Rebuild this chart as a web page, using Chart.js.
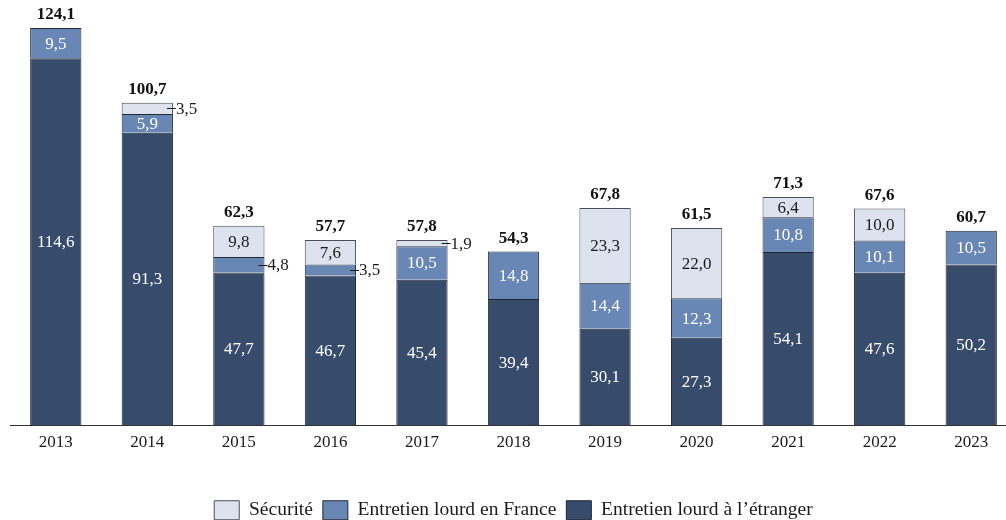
<!DOCTYPE html>
<html lang="fr">
<head>
<meta charset="utf-8">
<script src="https://cdn.jsdelivr.net/npm/chart.js@4.4.0/dist/chart.umd.min.js"></script>
<style>
  html, body { margin: 0; padding: 0; background: #fff; overflow: hidden; }
  .chart-box { width: 1020px; height: 520px; position: relative; }
</style>
</head>
<body>
<div class="chart-box"><canvas id="entretienChart"></canvas></div>
<script>
// Data
const years = ["2013", "2014", "2015", "2016", "2017", "2018", "2019", "2020", "2021", "2022", "2023"];
const etranger = [114.6, 91.3, 47.7, 46.7, 45.4, 39.4, 30.1, 27.3, 54.1, 47.6, 50.2];
const france = [9.5, 5.9, 4.8, 3.5, 10.5, 14.8, 14.4, 12.3, 10.8, 10.1, 10.5];
const securite = [0, 3.5, 9.8, 7.6, 1.9, 0, 23.3, 22.0, 6.4, 10.0, 0];
const totals = ["124,1", "100,7", "62,3", "57,7", "57,8", "54,3", "67,8", "61,5", "71,3", "67,6", "60,7"];

const FONT = "'Liberation Serif', 'Times New Roman', serif";
const fmt = v => v.toFixed(1).replace(".", ",");

// labels inside / beside segments + totals on top
const labelPlugin = {
  id: "segLabels",
  afterDatasetsDraw(chart) {
    const c = chart.ctx;
    c.save();
    c.font = "17px " + FONT;
    c.textBaseline = "middle";
    chart.data.datasets.forEach((ds, i) => {
      const meta = chart.getDatasetMeta(i);
      meta.data.forEach((bar, j) => {
        const v = ds.data[j];
        if (!v) return;
        const mid = (bar.y + bar.base) / 2;
        if (v >= 5) {
          c.textAlign = "center";
          c.fillStyle = i === 2 ? "#1a1a1a" : "#ffffff";
          c.fillText(fmt(v), bar.x, mid + 1);
        } else {
          const right = bar.x + bar.width / 2;
          c.strokeStyle = "#1a1a1a";
          c.lineWidth = 1;
          c.beginPath();
          c.moveTo(right - 6, Math.round(mid) + 0.5);
          c.lineTo(right + 3, Math.round(mid) + 0.5);
          c.stroke();
          c.textAlign = "left";
          c.fillStyle = "#1a1a1a";
          c.fillText(fmt(v), right + 3, mid + 1);
        }
      });
    });
    // totals
    c.font = "bold 17px " + FONT;
    c.textAlign = "center";
    c.fillStyle = "#111";
    years.forEach((y, j) => {
      let top = Infinity;
      chart.data.datasets.forEach((ds, i) => {
        if (ds.data[j]) top = Math.min(top, chart.getDatasetMeta(i).data[j].y);
      });
      c.fillText(totals[j], chart.getDatasetMeta(0).data[j].x, top - 13);
    });
    c.restore();
  }
};

const ctx = document.getElementById("entretienChart");

new Chart(ctx, {
  type: "bar",
  data: {
    labels: years,
    datasets: [
      {
        label: "Entretien lourd à l’étranger",
        data: etranger,
        backgroundColor: "#374b6b",
        borderColor: "#1c2535",
        borderWidth: 1
      },
      {
        label: "Entretien lourd en France",
        data: france,
        backgroundColor: "#6887b4",
        borderColor: "#222a38",
        borderWidth: 1
      },
      {
        label: "Sécurité",
        data: securite,
        backgroundColor: "#dce3ee",
        borderColor: "#4a4f58",
        borderWidth: 1
      }
    ]
  },
  options: {
    responsive: true,
    maintainAspectRatio: false,
    animation: false,
    layout: { padding: { top: 9, left: 10, right: 3, bottom: -10 } },
    datasets: { bar: { barPercentage: 0.56, categoryPercentage: 1 } },
    plugins: {
      legend: {
        position: "bottom",
        reverse: true,
        labels: {
          boxWidth: 25,
          boxHeight: 19,
          padding: 10,
          color: "#1a1a1a",
          font: { family: FONT, size: 19.5 }
        }
      },
      tooltip: { enabled: false }
    },
    scales: {
      x: {
        stacked: true,
        grid: { display: false, drawTicks: false },
        border: { color: "#333", width: 1 },
        ticks: { color: "#1a1a1a", font: { family: FONT, size: 17 }, padding: 7 },
        afterFit(scale) { scale.height += 31; }
      },
      y: {
        stacked: true,
        display: false,
        min: 0,
        max: 130
      }
    }
  },
  plugins: [labelPlugin]
});
</script>
</body>
</html>
